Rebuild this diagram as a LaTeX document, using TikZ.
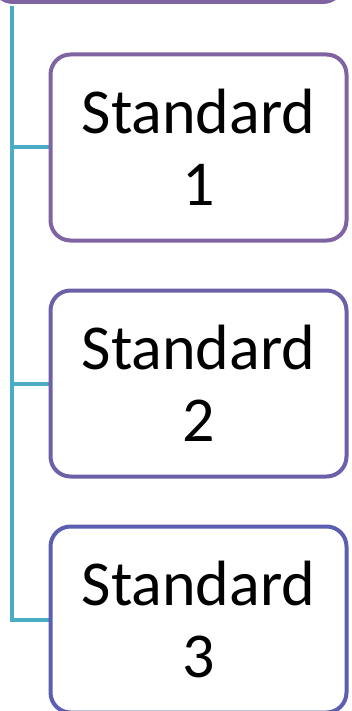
\documentclass[tikz,border=0pt]{standalone}
\usepackage{fontspec}
\setmainfont{Carlito}
\usetikzlibrary{positioning, backgrounds}

\definecolor{topPurple}{HTML}{8064A2}
\definecolor{midPurple}{HTML}{6E60A8}
\definecolor{lowBlue}{HTML}{5C5EB2}
\definecolor{linkTeal}{HTML}{4BACC6}

\begin{document}
\begin{tikzpicture}[
    x=1pt, y=-1pt,
    node distance = 46pt,
    stdbox/.style={draw, line width=4pt, rounded corners=20pt, fill=white,
        minimum width=296pt, minimum height=186pt, align=center,
        font=\fontsize{64}{72}\selectfont},
    linkline/.style={draw=linkTeal, line width=4pt},
]
\useasboundingbox (0,0) rectangle (351,711);

% parent box, mostly above the page
\node[stdbox, draw=topPurple, minimum width=350pt] (parent) at (168,-91) {};

\node[stdbox, draw=topPurple] (std1) at (198.5,147.5) {Standard\\1};
\node[stdbox, draw=midPurple, below=of std1] (std2) {Standard\\2};
\node[stdbox, draw=lowBlue, below=of std2] (std3) {Standard\\3};

\coordinate (trunk) at (12,6);

% links behind the boxes
\begin{scope}[on background layer]
\draw[linkline] (trunk) |- (std3.west);
\draw[linkline] (trunk |- std1.west) -- (std1.west);
\draw[linkline] (trunk |- std2.west) -- (std2.west);
\end{scope}
\end{tikzpicture}
\end{document}
